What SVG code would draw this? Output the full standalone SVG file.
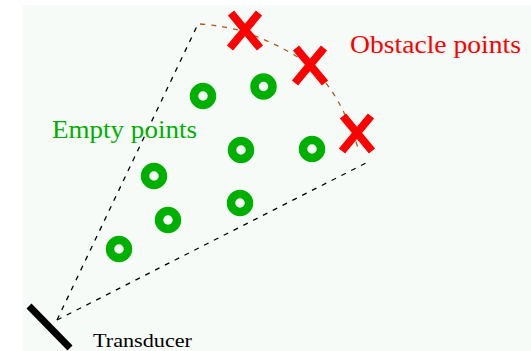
<svg xmlns="http://www.w3.org/2000/svg" width="531" height="351" viewBox="0 0 531 351">
<style>
.ring{fill:none;stroke:#00b000;stroke-width:8.5}
.x{stroke:#ff0000;stroke-width:8;stroke-linecap:butt}
.dash{fill:none;stroke:#000;stroke-width:1.3;stroke-dasharray:5,6}
.bdash{fill:none;stroke:#b05a20;stroke-width:1.3;stroke-dasharray:5,6}
text{font-family:"Liberation Serif","Times New Roman",serif}
</style>
<rect x="0" y="0" width="531" height="351" fill="#ffffff"/>
<rect x="23" y="5" width="508" height="346" fill="#f6fbf8"/>
<g id="connectors">
<path class="dash" d="M57,320 L198,24"/>
<path class="dash" d="M57,320 L366,163"/>
<path class="bdash" d="M200,24 Q226,26 245,32 Q288,48 310,66 Q340,92 358,148"/>
</g>
<g id="transducer">
<line x1="29" y1="306" x2="70" y2="348" stroke="#000" stroke-width="7"/>
<text x="93" y="347" font-size="19" fill="#000" textLength="99" lengthAdjust="spacingAndGlyphs">Transducer</text>
</g>
<g id="obstacles">
<path class="x" d="M231,13 L260,48 M259,13 L230,48"/>
<path class="x" d="M296,48 L325,83 M324,48 L295,83"/>
<path class="x" d="M343,116 L372,151 M371,116 L342,151"/>
<text x="350" y="53" font-size="25" fill="#ff0000" textLength="171" lengthAdjust="spacingAndGlyphs">Obstacle points</text>
</g>
<g id="empty">
<circle class="ring" cx="203" cy="96" r="9"/>
<circle class="ring" cx="263.5" cy="86.5" r="9"/>
<circle class="ring" cx="241" cy="150" r="9"/>
<circle class="ring" cx="312" cy="149" r="9"/>
<circle class="ring" cx="154" cy="176" r="9"/>
<circle class="ring" cx="168" cy="220" r="9"/>
<circle class="ring" cx="240" cy="203" r="9"/>
<circle class="ring" cx="119" cy="249" r="9"/>
<text x="52" y="138" font-size="25" fill="#00b000" textLength="145" lengthAdjust="spacingAndGlyphs">Empty points</text>
</g>
</svg>
